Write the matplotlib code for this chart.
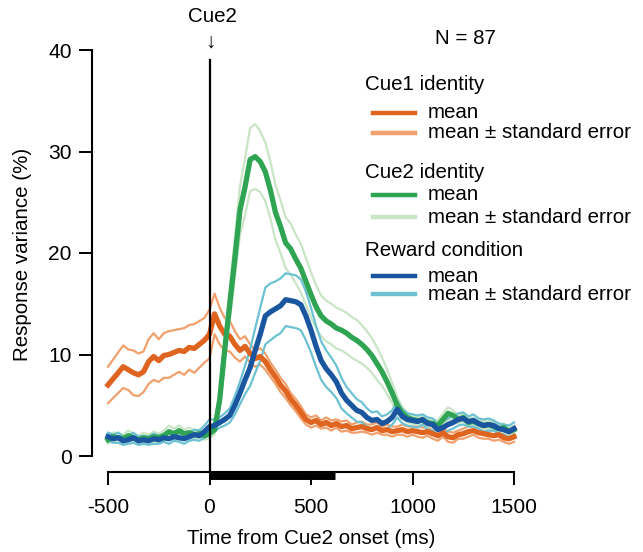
import numpy as np
import matplotlib
matplotlib.use("Agg")
import matplotlib.pyplot as plt
from matplotlib.lines import Line2D

plt.rcParams['font.family'] = ['Liberation Sans', 'DejaVu Sans']

# ---------------- data ----------------
time_ms = np.arange(-500, 1501, 25)

cue1_mean = [7.0, 7.6, 8.2, 8.8, 8.5, 8.2, 8.0, 8.3, 9.3, 9.8,
             9.4, 9.9, 10.0, 10.2, 10.4, 10.3, 10.7, 10.6, 11.0, 11.4,
             12.0, 14.0, 12.8, 12.0, 11.8, 11.0, 10.4, 10.8, 10.1, 9.6,
             9.8, 9.3, 8.5, 7.8, 7.0, 6.4, 5.6, 5.0, 4.3, 3.6,
             3.3, 3.5, 3.1, 3.3, 3.0, 3.2, 2.9, 3.0, 2.7, 2.8,
             2.9, 2.7, 2.6, 2.8, 2.5, 2.6, 2.4, 2.5, 2.6, 2.4,
             2.5, 2.4, 2.3, 2.4, 2.2, 2.0, 2.3, 1.9, 1.8, 2.1,
             2.2, 2.4, 2.5, 2.3, 2.2, 2.1, 2.0, 2.1, 1.8, 1.7, 1.9]
cue1_se = [1.8, 1.9, 2.0, 2.1, 2.0, 2.2, 2.1, 2.0, 2.2, 2.3,
           2.1, 2.2, 2.3, 2.2, 2.1, 2.3, 2.2, 2.4, 2.3, 2.2,
           2.4, 2.0, 1.8, 1.6, 1.5, 1.3, 1.1, 1.0, 0.9, 0.8,
           0.8, 0.8, 0.7, 0.7, 0.7, 0.7, 0.6, 0.6, 0.6, 0.5,
           0.5, 0.5, 0.4, 0.5, 0.5, 0.4, 0.5, 0.5, 0.4, 0.5,
           0.5, 0.4, 0.5, 0.5, 0.4, 0.5, 0.5, 0.4, 0.5, 0.5,
           0.4, 0.5, 0.5, 0.4, 0.5, 0.5, 0.4, 0.5, 0.5, 0.4,
           0.5, 0.5, 0.4, 0.5, 0.5, 0.4, 0.5, 0.5, 0.4, 0.5, 0.5]

cue2_mean = [1.6, 1.9, 1.8, 1.7, 2.0, 1.8, 1.6, 1.8, 1.7, 1.9,
             1.8, 2.0, 2.4, 2.2, 2.5, 2.2, 2.3, 2.1, 2.2, 2.0,
             2.2, 2.6, 5.5, 10.5, 15.0, 19.5, 24.2, 26.5, 29.2, 29.5,
             29.0, 28.0, 26.2, 24.0, 22.6, 21.0, 20.4, 19.4, 18.5, 17.2,
             15.9, 14.7, 13.8, 13.3, 13.0, 12.6, 12.4, 12.1, 11.7, 11.4,
             11.0, 10.5, 9.9, 9.1, 8.3, 7.3, 6.2, 5.0, 4.2, 3.8,
             3.6, 3.5, 3.5, 3.3, 3.2, 3.0, 3.6, 4.2, 4.0, 3.6,
             3.8, 3.3, 3.4, 3.2, 3.0, 3.1, 2.9, 2.7, 2.8, 2.4, 2.6]
cue2_se = [0.4, 0.4, 0.5, 0.4, 0.5, 0.4, 0.4, 0.5, 0.4, 0.5,
           0.4, 0.5, 0.6, 0.5, 0.5, 0.4, 0.5, 0.4, 0.4, 0.4,
           0.4, 0.5, 0.8, 1.2, 1.6, 2.0, 2.4, 2.8, 3.1, 3.2,
           3.0, 2.9, 2.8, 2.7, 2.6, 2.5, 2.5, 2.4, 2.4, 2.3,
           2.2, 2.1, 2.0, 2.0, 2.0, 2.0, 2.0, 2.0, 2.0, 2.0,
           1.9, 1.8, 1.7, 1.6, 1.4, 1.2, 1.0, 0.8, 0.6, 0.5,
           0.4, 0.4, 0.4, 0.4, 0.4, 0.5, 0.6, 0.6, 0.5, 0.4,
           0.4, 0.4, 0.4, 0.4, 0.4, 0.4, 0.4, 0.4, 0.4, 0.4, 0.4]

reward_mean = [1.9, 1.7, 1.8, 1.5, 1.6, 1.8, 1.5, 1.6, 1.5, 1.7,
               1.6, 1.8, 1.7, 1.9, 1.8, 1.7, 1.9, 2.1, 2.0, 2.4,
               2.9, 3.0, 3.3, 3.6, 4.0, 5.0, 6.2, 7.5, 8.7, 10.4,
               12.0, 13.8, 14.2, 14.5, 14.8, 15.4, 15.3, 15.2, 14.9, 13.8,
               12.4, 10.8, 9.4, 8.6, 8.0, 7.3, 6.2, 5.5, 5.0, 4.5,
               4.3, 3.8, 3.5, 3.6, 3.2, 3.4, 3.8, 4.6, 3.9, 3.6,
               3.5, 3.4, 3.6, 3.2, 3.1, 2.6, 2.8, 3.1, 3.3, 3.6,
               3.7, 3.4, 3.5, 3.2, 3.0, 3.1, 3.0, 2.7, 2.6, 2.4, 2.7]
reward_se = [0.4, 0.4, 0.5, 0.4, 0.4, 0.5, 0.4, 0.4, 0.4, 0.5,
             0.4, 0.4, 0.5, 0.4, 0.4, 0.5, 0.4, 0.5, 0.5, 0.6,
             0.7, 0.6, 0.5, 0.6, 0.7, 0.9, 1.1, 1.4, 1.8, 2.2,
             2.6, 2.8, 2.8, 2.7, 2.7, 2.6, 2.6, 2.6, 2.5, 2.4,
             2.2, 2.0, 1.9, 1.8, 1.7, 1.6, 1.5, 1.3, 1.2, 1.1,
             1.0, 0.9, 0.8, 0.8, 0.7, 0.7, 0.7, 0.8, 0.7, 0.6,
             0.6, 0.6, 0.5, 0.6, 0.6, 0.5, 0.6, 0.6, 0.6, 0.6,
             0.6, 0.5, 0.6, 0.5, 0.6, 0.6, 0.5, 0.5, 0.5, 0.6, 0.6]

x_ticks = [-500, 0, 500, 1000, 1500]
y_ticks = [0, 10, 20, 30, 40]
stim_end_ms = 620
n_units = 87

groups = ["Cue1 identity", "Cue2 identity", "Reward condition"]
mean_colors = ["#de6420", "#2fa452", "#1a56a0"]
se_colors = ["#f0a06c", "#c9e5c5", "#6cc2d2"]
means = [cue1_mean, cue2_mean, reward_mean]
ses = [cue1_se, cue2_se, reward_se]

# ---------------- figure ----------------
W, H = 643, 552
fig = plt.figure(figsize=(W / 100, H / 100), dpi=100)
ax = fig.add_axes([108 / W, 1 - 456 / H, (514 - 108) / W, (456 - 50) / H])
ax.set_xlim(-500, 1500)
ax.set_ylim(0, 40)

FS = 14.8
for m, s, cm, cs in zip(means, ses, mean_colors, se_colors):
    m = np.asarray(m)
    s = np.asarray(s)
    ax.plot(time_ms, m + s, color=cs, lw=1.6, clip_on=False, zorder=2)
    ax.plot(time_ms, m - s, color=cs, lw=1.6, clip_on=False, zorder=2)
    ax.plot(time_ms, m, color=cm, lw=3.8, clip_on=False, zorder=3)

for side in ("top", "right"):
    ax.spines[side].set_visible(False)
off = 16 * 72 / 100
ax.spines["left"].set_position(("outward", off))
ax.spines["bottom"].set_position(("outward", off))
ax.spines["left"].set_bounds(0, 40)
ax.spines["bottom"].set_bounds(-500, 1500)
for sp in ("left", "bottom"):
    ax.spines[sp].set_linewidth(1.5)

ax.set_xticks(x_ticks)
ax.set_xticklabels([str(v) for v in x_ticks])
ax.set_yticks(y_ticks)
ax.tick_params(axis="both", direction="out", length=9.5, width=1.4, labelsize=FS + 0.3)
ax.tick_params(axis="x", pad=9)
ax.tick_params(axis="y", pad=5)

# cue onset line and stimulus bar
y_spine = -16 / 10.15
ax.plot([0, 0], [y_spine, 39.0], color="black", lw=1.6, clip_on=False, zorder=4)
ax.plot([0, stim_end_ms], [y_spine - 0.35, y_spine - 0.35], color="black", lw=5.0,
        solid_capstyle="butt", clip_on=False, zorder=5)

# labels
fig.text(311 / W, 1 - 538 / H, "Time from Cue2 onset (ms)", ha="center", va="center", fontsize=FS)
fig.text(23 / W, 1 - 254 / H, "Response variance (%)", ha="center", va="center",
         rotation=90, fontsize=FS)
fig.text(212 / W, 1 - 17 / H, "Cue2", ha="center", va="center", fontsize=FS)
fig.text(210 / W, 1 - 42 / H, "\u2193", ha="center", va="center", fontsize=FS)
fig.text(435 / W, 1 - 39 / H, f"N = {n_units}", ha="left", va="center", fontsize=FS)

# manual legend
header_y = [85, 173, 250]
mean_y = [113, 195, 276]
se_y = [133, 217, 294]
for g, cm, cs, hy, my, sy in zip(groups, mean_colors, se_colors, header_y, mean_y, se_y):
    fig.text(365 / W, 1 - hy / H, g, ha="left", va="center", fontsize=FS)
    fig.add_artist(Line2D([373 / W, 415 / W], [1 - my / H, 1 - my / H], color=cm, lw=3.2,
                          transform=fig.transFigure))
    fig.add_artist(Line2D([373 / W, 415 / W], [1 - sy / H, 1 - sy / H], color=cs, lw=3.2,
                          transform=fig.transFigure))
    fig.text(428 / W, 1 - my / H, "mean", ha="left", va="center", fontsize=FS)
    fig.text(428 / W, 1 - sy / H, "mean \u00b1 standard error", ha="left", va="center", fontsize=FS)

fig.savefig("out.png", dpi=100)
